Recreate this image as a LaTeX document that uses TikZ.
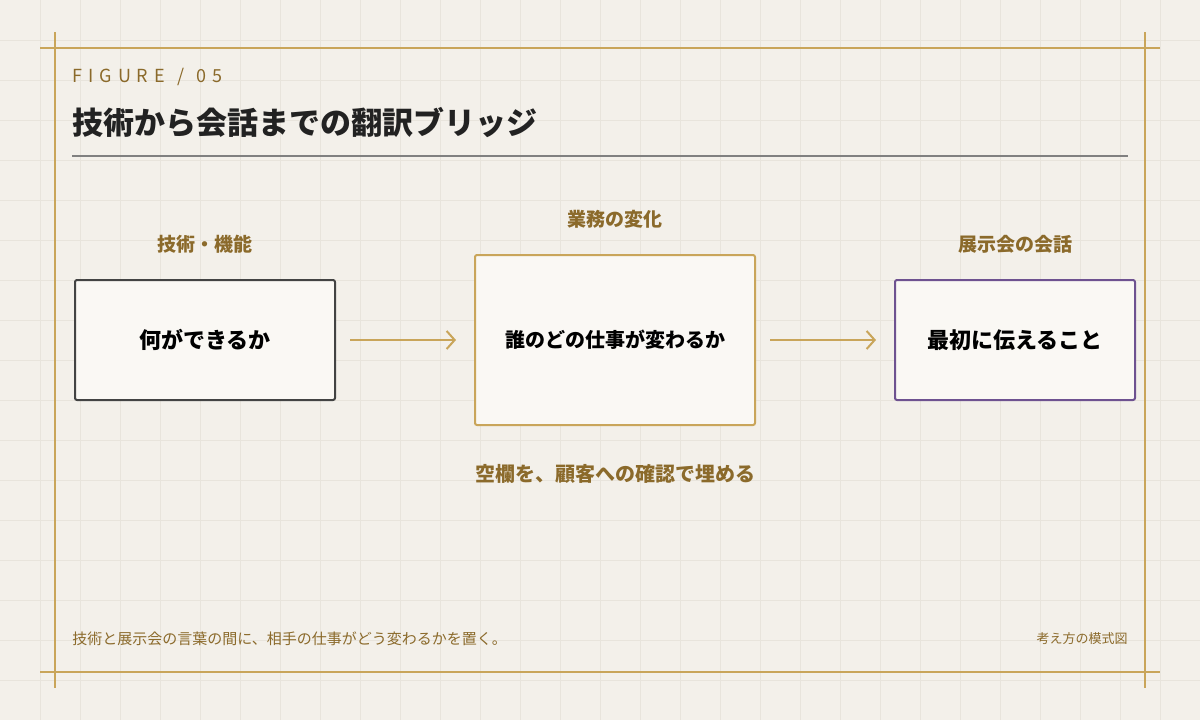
\documentclass[tikz,border=0pt]{standalone}
\usepackage{fontspec}
\setmainfont{Noto Sans CJK JP}
\usetikzlibrary{positioning,arrows.meta}
\definecolor{paper}{HTML}{F3F0EA}
\definecolor{gridc}{HTML}{E8E4DC}
\definecolor{gold}{HTML}{C9A55A}
\definecolor{brown}{HTML}{8B6A2B}
\definecolor{ink}{HTML}{222222}
\definecolor{boxfill}{HTML}{FAF8F4}
\definecolor{plum}{HTML}{6E5290}
\begin{document}
\begin{tikzpicture}
    [x=0.5pt,y=-0.5pt,
     box/.style={rectangle,rounded corners=1pt,fill=boxfill,line width=1pt,inner sep=0pt},
     head/.style={text=brown,font=\bfseries\fontsize{9.5}{11}\selectfont},
     flow/.style={draw=gold,line width=1pt,-{Straight Barb[length=4pt,width=9pt]}}]
    \fill [paper] (0,0) rectangle (1200,720);
    \useasboundingbox (0,0) rectangle (1200,720);
    \foreach \g in {40,80,...,1160} \draw [gridc,line width=0.5pt] (\g,0) -- (\g,720);
    \foreach \g in {40,80,...,680} \draw [gridc,line width=0.5pt] (0,\g) -- (1200,\g);
    \draw [gold,line width=1pt] (40,48) -- (1160,48);
    \draw [gold,line width=1pt] (40,672) -- (1160,672);
    \draw [gold,line width=1pt] (55,32) -- (55,688);
    \draw [gold,line width=1pt] (1145,32) -- (1145,688);
    \node (fig) at (72,77) [anchor=west,inner sep=0pt,text=brown,font=\fontsize{9}{10}\selectfont] {F\,\,I\,\,G\,\,U\,\,R\,\,E\ \ \ /\ \ \ 0\,\,5};
    \node (title) at (72,123) [anchor=west,inner sep=0pt,text=ink,font=\bfseries\fontsize{15.5}{18}\selectfont] {技術から会話までの翻訳ブリッジ};
    \draw [gray,line width=1pt] (72,156) -- (1128,156);
    \node (tech)  at (205,340) [box,draw=ink!85,minimum width=130pt,minimum height=60pt,font=\bfseries\fontsize{11}{13}\selectfont] {何ができるか};
    \node (work)  at (615,340) [box,draw=gold,minimum width=140pt,minimum height=85pt,font=\bfseries\fontsize{10}{12}\selectfont] {誰のどの仕事が変わるか};
    \node (talk)  at (1015,340) [box,draw=plum,minimum width=120pt,minimum height=60pt,font=\bfseries\fontsize{11}{13}\selectfont] {最初に伝えること};
    \node [head] at (205,244) {技術・機能};
    \node [head] at (615,219) {業務の変化};
    \node [head] at (1015,244) {展示会の会話};
    \node [head,font=\bfseries\fontsize{10}{12}\selectfont] at (615,474) {空欄を、顧客への確認で埋める};
    \draw [flow] ([xshift=7pt]tech.east) -- ([xshift=-9pt]work.west);
    \draw [flow] ([xshift=7pt]work.east) -- ([xshift=-9pt]talk.west);
    \node (note) at (72,639) [anchor=west,inner sep=0pt,text=brown,font=\fontsize{7.5}{9}\selectfont] {技術と展示会の言葉の間に、相手の仕事がどう変わるかを置く。};
    \node (kind) at (1128,639) [anchor=east,inner sep=0pt,text=brown,font=\fontsize{6.5}{8}\selectfont] {考え方の模式図};
  \end{tikzpicture}
\end{document}
